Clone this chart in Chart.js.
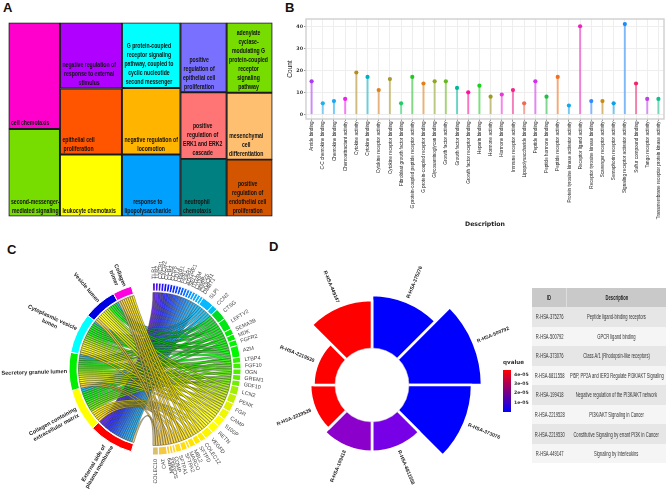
<!DOCTYPE html>
<html><head><meta charset="utf-8">
<script src="https://cdn.jsdelivr.net/npm/chart.js@4"></script>
<style>
html,body{margin:0;padding:0;background:#fff;width:668px;height:494px;overflow:hidden;position:relative}
canvas{position:absolute;display:block}
.tag{position:absolute;font:bold 13px "Liberation Sans",Arial,sans-serif;color:#111;line-height:13px}
#legendTitle{position:absolute;left:503px;top:359px;font:bold 5.6px "DejaVu Sans",sans-serif;color:#333}
#legendBar{position:absolute;left:503px;top:370px;width:8px;height:42px;background:linear-gradient(#ff0000,#0000ff)}
.lt{position:absolute;left:514px;font:bold 4.6px "DejaVu Sans",sans-serif;color:#333;line-height:6px}
table{position:absolute;left:532px;top:288px;width:134px;border-collapse:separate;border-spacing:0;table-layout:fixed;
 font:7.6px "Liberation Sans",sans-serif;color:#333}
td,th{padding:0;text-align:center;overflow:visible;white-space:nowrap;height:19.56px}
th{background:#c9c9c9;font-weight:bold;height:19px;color:#222}
th:first-child{border-right:1px solid #ddd}
tr:nth-child(even) td{background:#e6e6e6} tr:nth-child(odd) td{background:#f5f5f5}
td span,th span{display:inline-block;transform:scaleX(.54);margin:0 -100px}
</style></head><body>
<div class="tag" style="left:3px;top:1px">A</div>
<div class="tag" style="left:285px;top:1px">B</div>
<div class="tag" style="left:7px;top:243px">C</div>
<div class="tag" style="left:269px;top:240px">D</div>
<canvas id="a" width="267" height="197" style="left:7px;top:21px"></canvas>
<canvas id="b" width="388" height="228" style="left:280px;top:0"></canvas>
<canvas id="c" width="310" height="250" style="left:0;top:244px"></canvas>
<canvas id="d" width="310" height="310" style="left:217px;top:230px"></canvas>
<div id="legendTitle">qvalue</div><div id="legendBar"></div>
<div class="lt" style="top:372px">4e-05</div><div class="lt" style="top:381px">3e-05</div>
<div class="lt" style="top:390px">2e-05</div><div class="lt" style="top:400px">1e-05</div>
<table id="tbl"></table>
<script>
Chart.defaults.animation=false;Chart.defaults.responsive=false;Chart.defaults.devicePixelRatio=1;
Chart.defaults.plugins.legend.display=false;Chart.defaults.plugins.tooltip.enabled=false;
const SANS="'Liberation Sans',sans-serif";

/* ---------- A: treemap ---------- */
const cellLabels=["cell chemotaxis","second-messenger-\nmediated signaling",
"negative regulation of\nresponse to external\nstimulus","epithelial cell\nproliferation","leukocyte chemotaxis",
"G protein-coupled\nreceptor signaling\npathway, coupled to\ncyclic nucleotide\nsecond messenger","negative regulation of\nlocomotion","response to\nlipopolysaccharide",
"positive\nregulation of\nepithelial cell\nproliferation","positive\nregulation of\nERK1 and ERK2\ncascade","neutrophil\nchemotaxis",
"adenylate\ncyclase-\nmodulating G\nprotein-coupled\nreceptor\nsignaling\npathway","mesenchymal\ncell\ndifferentiation","positive\nregulation of\nendothelial cell\nproliferation"];
const cellValues=[10.7,8.8,8.0,8.0,7.5,7.5,7.6,7.1,6.3,6.0,5.2,6.3,6.0,5.1];
const cellGroups=[0,0,1,1,1,2,2,2,3,3,3,4,4,4];
const cellColors=["#ff00cc","#77dd00","#b000ff","#ff5500","#ffff00","#00ffff","#ffb400","#00a0ff","#7a70ff","#ff7575","#008080","#77dd00","#ffbf70","#d45500"];
(function(){
 const totals=[];cellValues.forEach((v,i)=>totals[cellGroups[i]]=(totals[cellGroups[i]]||0)+v);
 const sum=totals.reduce((a,b)=>a+b,0),plotW=264;
 const starts=[];let c=0;totals.forEach((t,i)=>{starts[i]=c;c+=t/sum*100;});
 const used=totals.map(()=>0);
 const ds=cellValues.map((v,i)=>{const g=cellGroups[i],h=v/totals[g]*100,top=100-used[g];used[g]+=h;
  const w=totals[g]/sum*100;
  return{data:[{x:starts[g]+w/2,y:[top-h,top]}],backgroundColor:cellColors[i],borderColor:"#1c1c1c",borderWidth:1.3,borderSkipped:false,barThickness:w/100*plotW};});
 new Chart(document.getElementById("a"),{type:"bar",data:{datasets:ds},
 options:{layout:{padding:1.5},grouped:false,
  scales:{x:{type:"linear",min:0,max:100,display:false,offset:false},y:{min:0,max:100,display:false}},
 },plugins:[{id:"cellText",afterDatasetsDraw(ch){const x=ch.ctx,k=.78;x.save();x.font="bold 6.6px "+SANS;x.fillStyle="#111";x.textAlign="center";x.textBaseline="alphabetic";
  cellLabels.forEach((t,i)=>{const e=ch.getDatasetMeta(i).data[0],l=t.split("\n"),W=Math.max(...l.map(s=>x.measureText(s).width))*k;
   const left=e.x-e.width/2+2.5;l.forEach((s,n)=>{x.save();x.translate(left+W/2,e.base-3.6-(l.length-1-n)*9);x.scale(k,1);x.fillText(s,0,0);x.restore();});});x.restore();}}]});
})();

/* ---------- B: lollipop ---------- */
const termNames=["Amide binding","C-C chemokine binding","Chemokine binding","Chemoattractant activity","Cytokine activity","Cytokine binding","Cytokine receptor activity","Cytokine receptor binding","Fibroblast growth factor binding","G protein-coupled peptide receptor activity","G protein-coupled receptor binding","Glycosaminoglycan binding","Growth factor activity","Growth factor binding","Growth factor receptor binding","Heparin binding","Hormone activity","Hormone binding","Immune receptor activity","Lipopolysaccharide binding","Peptide binding","Peptide hormone binding","Peptide receptor activity","Protein tyrosine kinase activator activity","Receptor ligand activity","Receptor tyrosine kinase binding","Scavenger receptor activity","Semaphorin receptor activity","Signaling receptor activator activity","Sulfur compound binding","Tango receptor activity","Transmembrane receptor protein kinase activity"];
const termCounts=[15,5,6,7,19,17,11,16,5,17,14,15,15,12,10,13,8,9,11,5,15,8,17,4,40,6,6,5,41,14,7,7];
const termColors=["#a83cf0","#1fb0f0","#18aaf0","#ee22ee","#b58c20","#00b0c0","#e08020","#a89830","#22cc66","#22c822","#e0801a","#8fa820","#66b820","#00b89a","#ff1199","#22cc22","#a09820","#ee33dd","#f5228a","#f06a50","#d030e8","#20c040","#f07020","#10a8f0","#f020c0","#3388ff","#c88a10","#10a0e8","#1a8cff","#f8206a","#c040e8","#10c090"];
new Chart(document.getElementById("b"),{type:"bar",data:{labels:termNames,datasets:[
 {type:"line",data:termCounts,showLine:false,pointRadius:2.1,pointBackgroundColor:termColors,pointBorderWidth:0,order:0},
 {type:"bar",data:termCounts,backgroundColor:termColors.map(c=>c+"88"),barThickness:1.4,order:1}]},
 options:{layout:{padding:{right:3,top:19}},
 scales:{
  x:{offset:true,grid:{color:"#eeeeee",offset:false,tickLength:2,tickColor:"#999"},border:{display:false},
   ticks:{autoSkip:false,minRotation:90,maxRotation:90,padding:1,color:"#222",font:{family:SANS,size:5.8}},
   title:{display:true,text:"Description",color:"#222",padding:0,font:{family:"'DejaVu Sans'",weight:"bold",size:6.2}},
   afterFit(s){s.height=109;}},
  y:{min:-2.14,max:43.3,grid:{color:"#eeeeee",tickLength:2,tickColor:"#999"},border:{display:false},
   ticks:{stepSize:10,includeBounds:false,padding:1,color:"#333",font:{family:"'DejaVu Sans'",weight:"bold",size:4.8}},
   title:{display:true,text:"Count",color:"#222",padding:{top:6,bottom:0},font:{family:SANS,size:6.5}},
   afterFit(s){s.width=26;}}}
 },plugins:[{id:"frame",
  afterLayout(ch){const s=ch.scales.x,x=ch.ctx,y0=s.top,orig=s.drawLabels.bind(s);
   s._computeLabelArea=()=>undefined;
   s.drawLabels=function(a){x.save();x.translate(0,y0);x.scale(1,.8);x.translate(0,-y0);orig(a);x.restore();};},
  afterDraw(ch){const a=ch.chartArea,x=ch.ctx;x.save();x.strokeStyle="#cfcfcf";x.lineWidth=1.4;x.strokeRect(a.left,a.top,a.width,a.height);x.restore();}}]});

/* ---------- C: chord ---------- */
const chordTerms=["Collagen\ntrimer","Vesicle lumen","Cytoplasmic vesicle\nlumen","Secretory granule lumen","Collagen containing\nextracellular matrix","External side of\nplasma membrane"];
const chordTermColors=["#ff00e0","#0000e0","#00ffff","#00ee00","#ffff00","#ff0000"];
const genes=["TLR1","TLR2","CXCR1","CXCR2","CCR1","CCR2","CCR5","CD14","LPAR1","FPR1","C5AR1","ADGRE1","SELL","ITGAM","CD36","MMP25","CX3CR1","DMBT1","SLPI","CCN2","CTSG","LEFTY2","SEMA3B","MDK","FGFR2","A2M","LTBP4","FGF10","OGN","GREM1","GDF10","LCN2","PENK","FGR","CAMP","S100P","RETN","VEGFD","COLEC12","SFTPD","MBL2","MARCO","SFTPA2","SFTPA1","COMP","SCARA5","MMP9","CAT","COLEC10"];
const E=[5],T=[1,2,3],Q=[1,2,3,4];
const geneTerms=[E,E,E,E,E,E,E,E,E,E,E,E,E,E,E,E,E,E,Q,[3,4],Q,Q,[2,4],[2,4],[1,2],Q,[3,4],[3,4],[2,4],[2,4],[3,4],T,T,T,T,T,T,[1,2,4],[0,4],[0,4],[0,4],[2],[0,4],[0,4],[0],[3],[1],[1,0,3],[0,5]];
const geneColors=["#5a10e0","#4a10e8","#3a10f0","#2a10f8","#1a10ff","#1018ff","#1024ff","#1030ff","#1040ff","#1050ff","#1060ff","#1070ff","#1080ff","#1090ff","#10a0ff","#10a8ff","#10b0ff","#10b8ff","#08b8ff","#00c0e8","#00dd20","#00e810","#00ee00","#00f000","#00f400","#00f800","#30f000","#40f000","#50ee00","#60ee00","#70ee00","#a0f000","#c0f000","#e0f000","#f0f800","#ffff00","#ffff00","#fff400","#ffec00","#ffe800","#ffe400","#ffe000","#ffdc10","#ffd820","#ffd428","#ffd030","#f8cc40","#f4c840","#d8c070"];
(function(){
 const geneSizes=geneTerms.map(t=>t.length);
 const termSizes=chordTerms.map((_,i)=>geneTerms.filter(t=>t.includes(i)).length);
 const nLinks=geneSizes.reduce((a,b)=>a+b,0);
 const geneUnit=183.4/nLinks,termUnit=148/nLinks;
 const ringTerms=[...chordTerms].reverse(),ringTermColors=[...chordTermColors].reverse(),ringTermSizes=[...termSizes].reverse();
 const ringData=[...geneSizes.map(v=>v*geneUnit),14.3,...ringTermSizes.map(v=>v*termUnit),14.3];
 const ringColors=[...geneColors,"rgba(0,0,0,0)",...ringTermColors,"rgba(0,0,0,0)"];
 const G=genes.length,gapIdx=[G,G+chordTerms.length+1];
 const polar=(cx,cy,r,a)=>[cx+r*Math.cos(a),cy+r*Math.sin(a)];
 new Chart(document.getElementById("c"),{type:"doughnut",
  data:{labels:[...genes,"",...ringTerms,""],datasets:[{data:ringData,backgroundColor:ringColors,rotation:-1.7,
   borderColor:"#fff",borderWidth:ringData.map((_,i)=>gapIdx.includes(i)?0:1)}]},
  options:{radius:86,cutout:"90.7%"},
  plugins:[{id:"ribbons",afterDatasetsDraw(ch){
   const x=ch.ctx,arcs=ch.getDatasetMeta(0).data,R=76.5,C=R*.5,cx=arcs[0].x,cy=arcs[0].y;
   const termSlots=chordTerms.map(()=>[]);
   geneTerms.forEach((ts,g)=>ts.forEach(t=>termSlots[t].push(g)));
   const termArc=t=>arcs[G+1+(chordTerms.length-1-t)],tUsed={};
   termSlots.forEach((l,t)=>{const a=termArc(t),st=(a.endAngle-a.startAngle)/l.length;
    [...l].reverse().forEach((g,k)=>{tUsed[g+"_"+t]=[a.startAngle+k*st,a.startAngle+(k+1)*st];});});
   x.save();x.lineWidth=.55;x.strokeStyle="rgba(45,45,35,.75)";
   geneTerms.forEach((ts,g)=>{const a=arcs[g],st=(a.endAngle-a.startAngle)/ts.length;
    const order=[...ts].sort((p,q)=>p-q);
    order.forEach((t,k)=>{
     const g0=a.startAngle+k*st+.002,g1=a.startAngle+(k+1)*st-.002,[t0,t1]=tUsed[g+"_"+t];
     const c1=polar(cx,cy,C,g1),c2=polar(cx,cy,C,t0),c3=polar(cx,cy,C,t1),c4=polar(cx,cy,C,g0),p0=polar(cx,cy,R,t0),p1=polar(cx,cy,R,g0);
     x.beginPath();x.arc(cx,cy,R,g0,g1);x.bezierCurveTo(c1[0],c1[1],c2[0],c2[1],p0[0],p0[1]);
     x.arc(cx,cy,R,t0,t1);x.bezierCurveTo(c3[0],c3[1],c4[0],c4[1],p1[0],p1[1]);x.closePath();
     x.globalAlpha=.85;x.fillStyle=geneColors[g];x.fill();x.globalAlpha=1;x.stroke();});});
   x.restore();
   x.save();x.textBaseline="middle";
   genes.forEach((n,i)=>{const a=(arcs[i].startAngle+arcs[i].endAngle)/2,deg=a*180/Math.PI+90;
    x.font="5.4px 'Liberation Sans'";x.fillStyle="#444";
    const p=polar(cx,cy,90,a);x.save();x.translate(p[0],p[1]);
    if(deg>168){x.rotate(a+Math.PI);x.textAlign="right";}else{x.rotate(a);x.textAlign="left";}
    x.fillText(n,0,0);x.restore();});
   chordTerms.forEach((n,t)=>{const e=termArc(t),a=(e.startAngle+e.endAngle)/2,p=polar(cx,cy,88,a),l=n.split("\n");
    x.font="bold 5.6px 'Liberation Sans'";x.fillStyle="#222";
    x.save();x.translate(p[0],p[1]);x.rotate(a+Math.PI);x.textAlign="center";
    const W=Math.max(...l.map(s=>x.measureText(s).width));
    l.forEach((s,k)=>x.fillText(s,-W/2,(k-(l.length-1)/2)*6.8));x.restore();});
   x.restore();
  }}]});
})();

/* ---------- D: rose ---------- */
const pathwayIds=["R-HSA-375276","R-HSA-500792","R-HSA-373076","R-HSA-6811558","R-HSA-199418","R-HSA-2219528","R-HSA-2219530","R-HSA-449147"];
const pathwayNames=["Peptide ligand-binding receptors","GPCR ligand binding","Class A/1 (Rhodopsin-like receptors)","PI5P, PP2A and IER3 Regulate PI3K/AKT Signaling","Negative regulation of the PI3K/AKT network","PI3K/AKT Signaling in Cancer","Constitutive Signaling by errant PI3K in Cancer","Signaling by Interleukins"];
const pathwayCounts=[32,44,38,18,18,15,13,29];
const pathwayColors=["#0000ff","#0000ff","#0000ff","#7800e6","#8c00cc","#ff0000","#ff0000","#ff0000"];
new Chart(document.getElementById("d"),{type:"polarArea",
 data:{labels:pathwayIds,datasets:[{data:pathwayCounts,backgroundColor:pathwayColors,borderColor:"#fff",borderWidth:2.6}]},
 options:{scales:{r:{display:false,min:-22.3,max:71.1,ticks:{display:false},grid:{display:false}}}},
 plugins:[{id:"hole",afterDatasetsDraw(ch){
  const x=ch.ctx,s=ch.scales.r,els=ch.getDatasetMeta(0).data,cx=s.xCenter,cy=s.yCenter;
  x.save();x.beginPath();x.arc(cx,cy,s.getDistanceFromCenterForValue(0),0,2*Math.PI);x.fillStyle="#fff";x.fill();
  x.strokeStyle="#ccc";x.lineWidth=.5;x.stroke();
  x.font="bold 5px 'Liberation Sans'";x.fillStyle="#222";x.textBaseline="middle";
  els.forEach((e,i)=>{const a=(e.startAngle+e.endAngle)/2,r=s.getDistanceFromCenterForValue(pathwayCounts[i])+4;
   x.save();x.translate(cx+r*Math.cos(a),cy+r*Math.sin(a));
   const left=Math.cos(a)<-1e-6||(Math.abs(Math.cos(a))<1e-6&&i>3);
   x.rotate(left?a+Math.PI:a);x.textAlign=left?"right":"left";x.fillText(pathwayIds[i],0,0);x.restore();});
  x.restore();}}]});

/* ---------- table ---------- */
document.getElementById("tbl").innerHTML='<colgroup><col style="width:35px"><col style="width:99px"></colgroup><tr><th><span>ID</span></th><th><span>Description</span></th></tr>'+
 pathwayIds.map((id,i)=>'<tr><td><span>'+id+'</span></td><td><span>'+pathwayNames[i]+'</span></td></tr>').join("");
</script></body></html>
